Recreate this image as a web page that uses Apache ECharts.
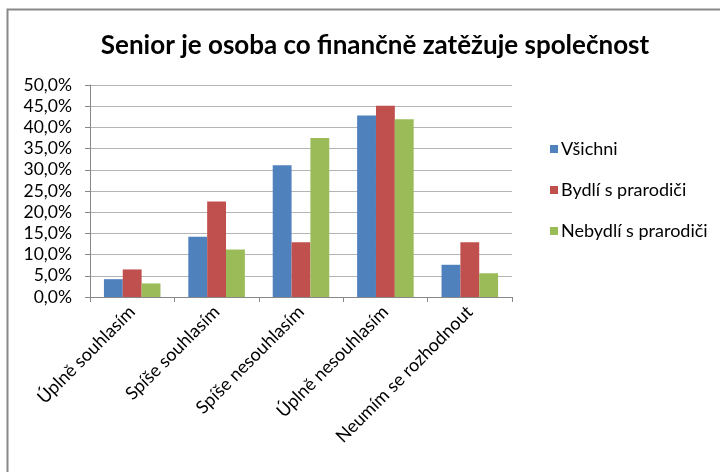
<!DOCTYPE html>
<html>
<head>
<meta charset="utf-8">
<script src="https://cdn.jsdelivr.net/npm/echarts@6/dist/echarts.min.js"></script>
<style>
  html, body { margin: 0; padding: 0; background: #fff; }
</style>
</head>
<body>
<div id="chart" style="width:720px;height:472px;"></div>
<script>
  // kategorie a hodnoty (podíl odpovědí)
  var categories = ['Úplně souhlasím', 'Spíše souhlasím', 'Spíše nesouhlasím', 'Úplně nesouhlasím', 'Neumím se rozhodnout'];
  var vsichni = [0.042, 0.142, 0.311, 0.428, 0.076];
  var bydli = [0.065, 0.225, 0.129, 0.451, 0.129];
  var nebydli = [0.032, 0.112, 0.375, 0.419, 0.056];
  var seriesNames = ['Všichni', 'Bydlí s prarodiči', 'Nebydlí s prarodiči'];

  var font = 'Lato, "Open Sans", sans-serif';

  var myChart = echarts.init(document.getElementById('chart'));
  myChart.setOption({
    animation: false,
    color: ['#4F81BD', '#C0504D', '#9BBB59'],
    title: {
      text: 'Senior je osoba co finančně zatěžuje společnost',
      left: 370,
      textAlign: 'center',
      top: 28,
      textStyle: {fontFamily: font, fontSize: 26, fontWeight: 'bold', color: '#000'}
    },
    graphic: [{
      type: 'rect',
      shape: {x: 7.5, y: 9.5, width: 800, height: 600},
      style: {fill: 'none', stroke: '#888', lineWidth: 2},
      silent: true
    }],
    legend: {
      orient: 'vertical',
      left: 545,
      top: 135,
      itemWidth: 8,
      itemHeight: 8,
      itemGap: 23,
      icon: 'rect',
      textStyle: {fontFamily: font, fontSize: 18, color: '#000', padding: [0, 0, 0, -2]},
      data: seriesNames
    },
    grid: {left: 90, right: 208, top: 85, bottom: 175, containLabel: false},
    xAxis: {
      type: 'category',
      data: categories,
      axisLine: {lineStyle: {color: '#888'}},
      axisTick: {show: true, length: 5, lineStyle: {color: '#888'}},
      axisLabel: {rotate: 45, fontFamily: font, fontSize: 18, color: '#000', margin: 12, interval: 0}
    },
    yAxis: {
      type: 'value',
      min: 0,
      max: 0.5,
      interval: 0.05,
      axisLine: {show: true, lineStyle: {color: '#888'}},
      axisTick: {show: true, length: 5, lineStyle: {color: '#888'}},
      splitLine: {lineStyle: {color: '#b4b4b4'}},
      axisLabel: {
        fontFamily: font, fontSize: 17.5, color: '#000', margin: 18,
        formatter: function (v) { return (v * 100).toFixed(1).replace('.', ',') + '%'; }
      }
    },
    series: [
      {name: seriesNames[0], type: 'bar', data: vsichni, barGap: '0%', barCategoryGap: '33%'},
      {name: seriesNames[1], type: 'bar', data: bydli, barGap: '0%', barCategoryGap: '33%'},
      {name: seriesNames[2], type: 'bar', data: nebydli, barGap: '0%', barCategoryGap: '33%'}
    ]
  });
</script>
</body>
</html>
